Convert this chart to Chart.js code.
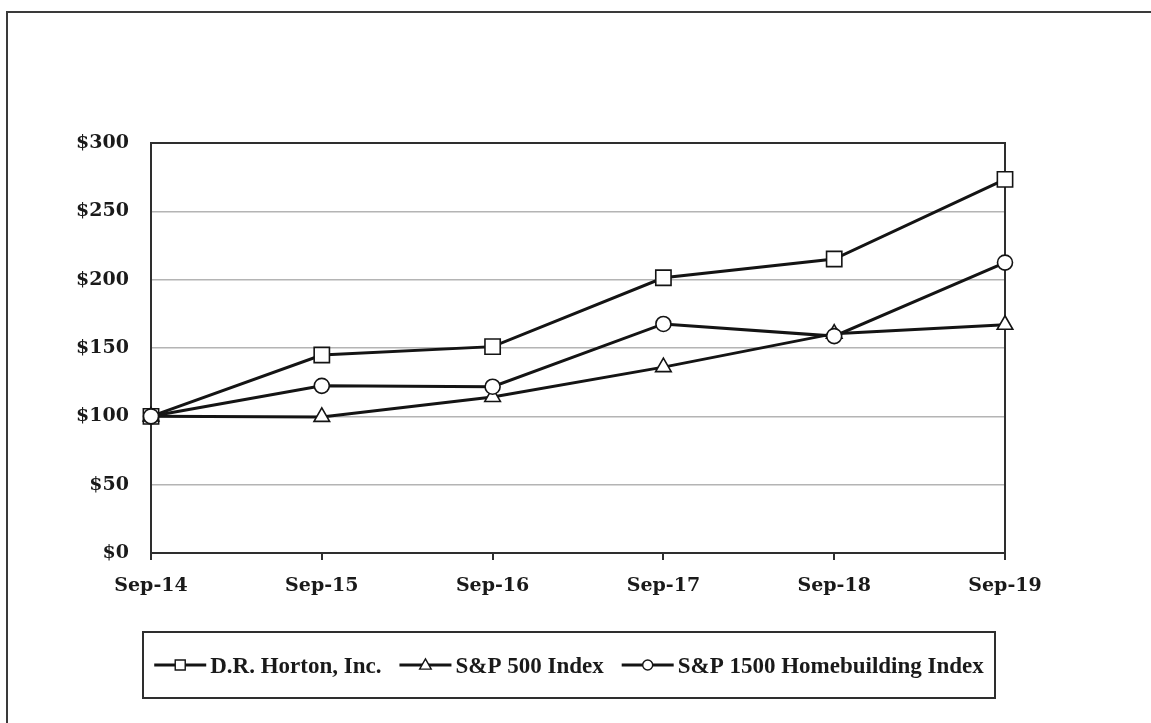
<!DOCTYPE html>
<html>
<head>
<meta charset="utf-8">
<script src="https://cdn.jsdelivr.net/npm/chart.js@4/dist/chart.umd.min.js"></script>
<style>
  html, body { margin: 0; padding: 0; background: #fff; overflow: hidden; }
  #wrap { position: relative; width: 1151px; height: 723px; }
  #frame { position: absolute; left: 6px; top: 11px; width: 1300px; height: 900px; border: 2px solid #3a3a3a; box-sizing: border-box; }
  canvas { position: absolute; left: 0; top: 0; }
</style>
</head>
<body>
<div id="wrap">
  <div id="frame"></div>
  <canvas id="c" width="1151" height="723"></canvas>
</div>
<script>
const categories = ["Sep-14", "Sep-15", "Sep-16", "Sep-17", "Sep-18", "Sep-19"];
const seriesNames = ["D.R. Horton, Inc.", "S&P 500 Index", "S&P 1500 Homebuilding Index"];
const drHorton = [100, 144.9, 151.0, 201.4, 215.1, 273.4];
const sp500 = [100, 99.6, 114.2, 136.0, 160.5, 167.0];
const homebuilding = [100, 122.3, 121.7, 167.6, 158.7, 212.5];
const yTicks = [0, 50, 100, 150, 200, 250, 300];

const INK = '#141414';
const tickFont = { family: 'DejaVu Serif', weight: 'bold', size: 19 };

function mk(label, data, style, radius, order) {
  return {
    label, data, order,
    borderColor: INK, borderWidth: 3, tension: 0, fill: false,
    pointStyle: style, pointRadius: radius, pointHoverRadius: radius,
    pointBackgroundColor: '#fff', pointBorderColor: INK, pointBorderWidth: 1.6,
    clip: false
  };
}

const frameBox = {
  id: 'frameBox',
  beforeDatasetsDraw(chart) {
    const a = chart.chartArea, ctx = chart.ctx;
    ctx.save();
    ctx.strokeStyle = '#2e2e2e';
    ctx.lineWidth = 2;
    ctx.beginPath();
    ctx.moveTo(a.left, a.top); ctx.lineTo(a.right, a.top); ctx.lineTo(a.right, a.bottom);
    ctx.stroke();
    ctx.restore();
  }
};

function marker(ctx, style, x, y, r) {
  ctx.beginPath();
  if (style === 'rect') {
    ctx.rect(x - r, y - r, 2 * r, 2 * r);
  } else if (style === 'circle') {
    ctx.arc(x, y, r, 0, Math.PI * 2);
  } else {
    ctx.moveTo(x, y - r * 1.1);
    ctx.lineTo(x + r * 1.05, y + r * 0.75);
    ctx.lineTo(x - r * 1.05, y + r * 0.75);
    ctx.closePath();
  }
  ctx.fillStyle = '#fff';
  ctx.fill();
  ctx.lineWidth = 1.4;
  ctx.strokeStyle = INK;
  ctx.stroke();
}

const boxLegend = {
  id: 'boxLegend',
  afterDraw(chart) {
    const ctx = chart.ctx;
    const bx = 143, by = 632, bw = 852, bh = 66;
    ctx.save();
    ctx.strokeStyle = '#2e2e2e';
    ctx.lineWidth = 2;
    ctx.strokeRect(bx, by, bw, bh);
    ctx.font = 'bold 23px "Liberation Serif"';
    const lineLen = 52, gapTxt = 4, gapItem = 18;
    const items = chart.data.datasets.map(ds => ({
      label: ds.label, style: ds.pointStyle, w: lineLen + gapTxt + ctx.measureText(ds.label).width
    }));
    const total = items.reduce((s, it) => s + it.w, 0) + gapItem * (items.length - 1);
    let x = bx + bw / 2 - total / 2;
    const ly = 665;
    items.forEach(it => {
      ctx.strokeStyle = INK;
      ctx.lineWidth = 3;
      ctx.beginPath();
      ctx.moveTo(x, ly); ctx.lineTo(x + lineLen, ly);
      ctx.stroke();
      marker(ctx, it.style, x + lineLen / 2, ly, it.style === 'triangle' ? 5.5 : 5);
      ctx.fillStyle = '#1a1a1a';
      ctx.textBaseline = 'alphabetic';
      ctx.textAlign = 'left';
      ctx.fillText(it.label, x + lineLen + gapTxt, 673);
      x += it.w + gapItem;
    });
    ctx.restore();
  }
};

new Chart(document.getElementById('c'), {
  type: 'line',
  data: {
    labels: categories,
    datasets: [
      mk(seriesNames[0], drHorton, 'rect', 10.8, 2),
      mk(seriesNames[1], sp500, 'triangle', 9, 1),
      mk(seriesNames[2], homebuilding, 'circle', 7.5, 0)
    ]
  },
  options: {
    responsive: false,
    animation: false,
    devicePixelRatio: 1,
    layout: { padding: { left: 0, top: 143, right: 146, bottom: 110 } },
    plugins: { legend: { display: false }, tooltip: { enabled: false } },
    scales: {
      x: {
        type: 'category',
        offset: false,
        grid: { drawOnChartArea: false, drawTicks: true, tickLength: 7, color: '#2e2e2e', lineWidth: 2 },
        border: { display: true, color: '#2e2e2e', width: 2 },
        ticks: { font: tickFont, color: '#1a1a1a', padding: 15, maxRotation: 0, autoSkip: false },
        afterFit(s) { s.height = 60; }
      },
      y: {
        min: 0, max: 300,
        afterBuildTicks(s) { s.ticks = yTicks.map(v => ({ value: v })); },
        grid: { color: '#b4b4b4', lineWidth: 1.5, drawTicks: false },
        border: { display: true, color: '#2e2e2e', width: 2 },
        ticks: { font: tickFont, color: '#1a1a1a', padding: 22, callback: v => '$' + v },
        afterFit(s) { s.width = 151; }
      }
    }
  },
  plugins: [frameBox, boxLegend]
});
</script>
</body>
</html>
